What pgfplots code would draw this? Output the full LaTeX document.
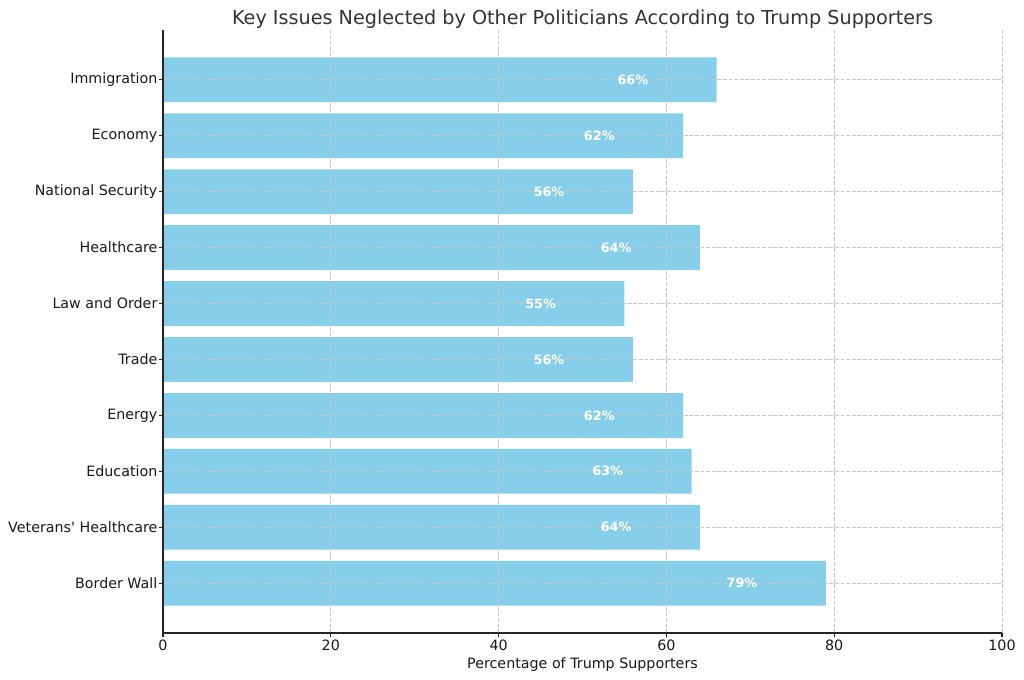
\documentclass[border=0pt]{standalone}
\usepackage{pgfplots}
\pgfplotsset{compat=1.18}
\usepackage{fontspec}
\setmainfont{DejaVu Sans}
\definecolor{barblue}{HTML}{87CEEB}
\definecolor{titlegray}{HTML}{333333}
\begin{document}
\begin{tikzpicture}
\begin{axis}[
  scale only axis,
  width=629.25pt, height=452.25pt,
  xbar, bar width=0.8,
  xmin=0, xmax=100,
  ymin=-0.89, ymax=9.89,
  ytick={0,...,9},
  yticklabels={Border Wall,Veterans\textquotesingle\ Healthcare,Education,Energy,Trade,Law and Order,Healthcare,National Security,Economy,Immigration},
  xtick={0,20,40,60,80,100},
  /pgf/number format/assume math mode=true,
  axis x line*=bottom, axis y line*=left,
  axis line style={line width=0.8pt, black!85},
  tick align=outside,
  major tick length=3.3pt,
  tick style={line width=0.8pt, black!85},
  every tick label/.append style={font=\fontsize{10.7}{12}\selectfont, text=black!90},
  yticklabel style={xshift=2.6pt},
  xticklabel style={yshift=2pt},
  grid=major,
  major grid style={gray!45, line width=0.5pt, dash pattern=on 2.8pt off 1.4pt},
  axis on top,
  title={Key Issues Neglected by Other Politicians According to Trump Supporters},
  title style={font=\fontsize{14.4}{17}\selectfont, text=titlegray, yshift=-8.5pt},
  xlabel={Percentage of Trump Supporters},
  xlabel style={font=\fontsize{10.7}{12}\selectfont, text=black!90, yshift=1.5pt},
  nodes near coords={\pgfmathprintnumber{\pgfplotspointmeta}\%},
  every node near coord/.append style={anchor=center, xshift=-62.9pt, text=white, font=\fontsize{9.6}{11}\selectfont\bfseries},
]
\addplot[fill=barblue, draw=none] coordinates {
  (79,0) (64,1) (63,2) (62,3) (56,4) (55,5) (64,6) (56,7) (62,8) (66,9)
};
\end{axis}
\pgfresetboundingbox
\useasboundingbox (current axis.south west) ++(-122.25pt,-35.25pt) rectangle ([xshift=16.5pt,yshift=22.5pt]current axis.north east);
\end{tikzpicture}
\end{document}
